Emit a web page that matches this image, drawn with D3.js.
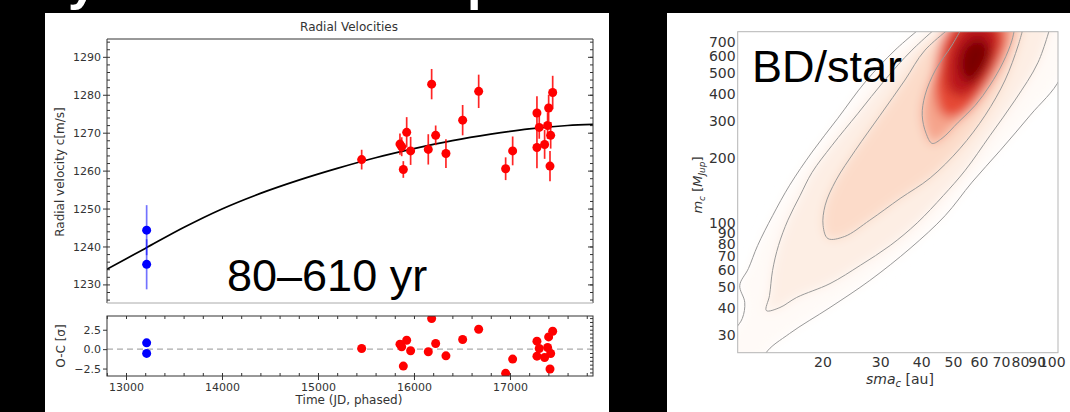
<!DOCTYPE html>
<html>
<head>
<meta charset="utf-8">
<title>Radial velocities and companion mass</title>
<script src="https://cdn.jsdelivr.net/npm/d3@7"></script>
<style>
  body { margin: 0; background: #000; }
  svg { display: block; }
</style>
</head>
<body>
<svg id="chart" width="1070" height="412"></svg>
<script>
// ---- radial velocity data ----
const rvTime  = [15455, 15854, 15872, 15889, 15924, 15965, 16149, 16184, 16226, 16333, 16507, 16674,
                 16955, 17028, 17281, 17281, 17305, 17361, 17392, 17403, 17417, 17424, 17445];
const rvValue = [1262.9, 1267.0, 1266.3, 1260.3, 1270.1, 1265.2, 1265.6, 1282.8, 1269.3, 1264.5, 1273.3, 1280.9,
                 1260.5, 1265.2, 1275.2, 1266.1, 1271.4, 1266.9, 1271.9, 1276.5, 1261.2, 1269.3, 1280.6];
const rvError = [2.6, 2.8, 2.5, 2.2, 4.0, 3.7, 4.0, 4.0, 2.6, 3.8, 4.0, 4.4,
                 3.0, 3.8, 4.4, 5.5, 3.0, 3.8, 3.5, 3.5, 4.0, 3.5, 4.4];
const rvResid = [0.09, 0.64, 0.30, -2.18, 1.15, -0.21, -0.34, 3.94, 0.73, -0.86, 1.24, 2.56,
                 -3.12, -1.28, 1.03, -0.90, 0.09, -1.07, 0.21, 1.58, -2.56, -0.56, 2.31];

const oldTime  = [13215, 13215];
const oldValue = [1244.3, 1235.3];
const oldError = [6.6, 6.6];
const oldResid = [0.81, -0.55];

const modelTime  = [12800, 13200, 13600, 14000, 14400, 14800, 15200, 15600, 16000, 16400, 16800, 17200, 17600, 17870];
const modelValue = [1234.0, 1239.5, 1245.0, 1249.9, 1254.0, 1257.5, 1260.6, 1263.4, 1265.8, 1267.9, 1269.6, 1271.0, 1271.9, 1272.2];

const rvTicks    = [1230, 1240, 1250, 1260, 1270, 1280, 1290];
const residTicks = [-2.5, 0, 2.5];
const timeTicks  = [13000, 14000, 15000, 16000, 17000];

// ---- companion posterior: contour outlines [sma au, mass Mjup] ----
const contourD = [[42.6,883],[33.3,640],[27.0,454],[22.3,308],[18.6,214],[15.9,150],[14.1,108],[12.7,78.5],
  [11.9,61.2],[11.2,51.1],[11.6,42.6],[11.4,35.8],[10.3,28.2],[10.1,18.4],[12.7,18.4],[13.4,24.5],[15.9,30.5],
  [21.1,40.3],[27.9,53.9],[37.0,76.0],[47.3,108],[57.2,155],[69.7,218],[86.0,318],[106.2,473],[117.7,883]];
const contourC = [[47.3,883],[37.5,640],[31.0,464],[25.7,325],[21.4,230],[18.6,172],[17.1,134],[15.7,103],
  [14.7,78.5],[14.1,60.0],[13.8,45.8],[13.5,39.0],[14.85,40.3],[16.7,44.9],[21.1,52.1],[26.1,63.4],[32.2,78.5],
  [38.9,100],[46.7,134],[54.5,176],[64.9,256],[77.3,374],[90.9,562],[100.3,883]];
const contourB = [[52.6,883],[41.1,640],[35.7,464],[30.0,318],[25.2,218],[22.0,158],[20.4,121],[20.1,97.3],
  [20.8,84.5],[23.4,86.5],[27.9,103],[34.5,130],[42.6,162],[52.6,223],[62.7,318],[72.1,464],[79.1,676],[83.0,883]];
const contourA = [[54.8,883],[49.7,676],[44.2,516],[41.1,394],[40.3,318],[41.4,262],[43.2,235],[46.3,248],
  [51.9,295],[58.5,354],[64.9,440],[71.1,562],[75.7,713],[77.8,883]];
// inner shading levels around the peak (no outline drawn)
const core1 = [[48.0,800],[44.5,560],[44.3,390],[47.0,315],[53.5,322],[61.5,410],[68.5,545],[72.5,720],[68.5,900],[54.5,960]];
const core2 = [[51.0,740],[47.8,550],[48.8,410],[54.5,390],[61.5,465],[67.0,610],[68.3,770],[58.5,870]];
const core3 = [[54.0,660],[52.5,520],[56.0,450],[62.0,515],[65.0,640],[60.0,730]];

const massTicks = [30, 40, 50, 60, 70, 80, 90, 100, 200, 300, 400, 500, 600, 700];
const smaTicks  = [20, 30, 40, 50, 60, 70, 80, 90, 100];

const svg = d3.select("#chart");
const mpl = "DejaVu Sans, sans-serif";

// slide background pieces
svg.append("rect").attr("x", 0).attr("y", 0).attr("width", 1070).attr("height", 412).attr("fill", "#000");
svg.append("rect").attr("x", 45).attr("y", 13).attr("width", 564).attr("height", 399).attr("fill", "#fff");
svg.append("rect").attr("x", 667).attr("y", 13).attr("width", 403).attr("height", 399).attr("fill", "#fff");

// cut-off slide heading (only descenders visible)
svg.append("text").attr("x", 68).attr("y", -1).text("y")
    .attr("font-family", "Liberation Sans, Arial, sans-serif").attr("font-weight", "bold")
    .attr("font-size", 52).attr("fill", "#fff");
svg.append("text").attr("x", 467).attr("y", -1).text("p")
    .attr("font-family", "Liberation Sans, Arial, sans-serif").attr("font-weight", "bold")
    .attr("font-size", 52).attr("fill", "#fff");

// ================= left: radial velocities =================
const x = d3.scaleLinear().domain([12802, 17865]).range([107, 593]);
const yRv = d3.scaleLinear().domain([1225.1, 1294.7]).range([303, 39]);
const yOc = d3.scaleLinear().domain([-3.46, 4.27]).range([376, 316]);

function styleAxis(g, size) {
    g.attr("font-family", mpl).attr("font-size", size);
    g.select(".domain").remove();
    g.selectAll(".tick line").attr("stroke", "#333");
    g.selectAll(".tick text").attr("fill", "#333");
}

const defs = svg.append("defs");
defs.append("clipPath").attr("id", "ocClip").append("rect")
    .attr("x", 107).attr("y", 316).attr("width", 486).attr("height", 60);
defs.append("clipPath").attr("id", "rvClip").append("rect")
    .attr("x", 107).attr("y", 39).attr("width", 486).attr("height", 264);

svg.append("text").attr("x", 349).attr("y", 31).attr("text-anchor", "middle")
    .attr("font-family", mpl).attr("font-size", 12).attr("fill", "#333").text("Radial Velocities");

// top panel axes
styleAxis(svg.append("g").attr("transform", "translate(107,0)")
    .call(d3.axisLeft(yRv).tickValues(rvTicks).tickSize(4).tickPadding(2).tickFormat(d3.format("d"))), 11);
styleAxis(svg.append("g").attr("transform", "translate(107,0)")
    .call(d3.axisLeft(yRv).tickValues(d3.range(1226, 1295, 2)).tickSize(-3).tickFormat("")), 11);
styleAxis(svg.append("g").attr("transform", "translate(593,0)")
    .call(d3.axisRight(yRv).tickValues(d3.range(1226, 1295, 2)).tickSize(-3).tickFormat("")), 11);
styleAxis(svg.append("g").attr("transform", "translate(593,0)")
    .call(d3.axisRight(yRv).tickValues(rvTicks).tickSize(-5).tickFormat("")), 11);

// model curve
const rvCurve = modelTime.map((t, i) => [t, modelValue[i]]);
svg.append("path").datum(rvCurve)
    .attr("clip-path", "url(#rvClip)")
    .attr("fill", "none").attr("stroke", "#000").attr("stroke-width", 1.7)
    .attr("d", d3.line().x(d => x(d[0])).y(d => yRv(d[1])).curve(d3.curveMonotoneX));

// error bars + points
const rvData = rvTime.map((t, i) => ({ t, v: rvValue[i], e: rvError[i], r: rvResid[i] }));
const oldData = oldTime.map((t, i) => ({ t, v: oldValue[i], e: oldError[i], r: oldResid[i] }));

function drawRv(data, color, barOpacity) {
    svg.append("g").selectAll("line").data(data).join("line")
        .attr("x1", d => x(d.t)).attr("x2", d => x(d.t))
        .attr("y1", d => yRv(d.v - d.e)).attr("y2", d => yRv(d.v + d.e))
        .attr("stroke", color).attr("stroke-width", 1.7).attr("opacity", barOpacity);
    svg.append("g").selectAll("circle").data(data).join("circle")
        .attr("cx", d => x(d.t)).attr("cy", d => yRv(d.v)).attr("r", 4.5).attr("fill", color);
}
drawRv(oldData, "#0000ff", 0.55);
drawRv(rvData, "#ff0000", 0.85);

// top panel frame
svg.append("path").attr("d", "M107,303V39H593V303").attr("fill", "none").attr("stroke", "#333").attr("stroke-width", 1);
svg.append("line").attr("x1", 107).attr("x2", 593).attr("y1", 303).attr("y2", 303)
    .attr("stroke", "#aaa").attr("stroke-width", 1);

svg.append("text").attr("transform", "translate(64,172) rotate(-90)").attr("text-anchor", "middle")
    .attr("font-family", mpl).attr("font-size", 12).attr("fill", "#333").text("Radial velocity c[m/s]");

svg.append("text").attr("x", 227).attr("y", 291)
    .attr("font-family", "Liberation Sans, Arial, Helvetica, sans-serif").attr("font-size", 45)
    .attr("fill", "#000").text("80–610 yr");

// O-C panel
styleAxis(svg.append("g").attr("transform", "translate(107,0)")
    .call(d3.axisLeft(yOc).tickValues(residTicks).tickSize(4).tickPadding(2).tickFormat(d3.format(".1f"))), 11);
styleAxis(svg.append("g").attr("transform", "translate(593,0)")
    .call(d3.axisRight(yOc).tickValues(d3.range(-3, 4.1, 0.5)).tickSize(-3).tickFormat("")), 11);
styleAxis(svg.append("g").attr("transform", "translate(0,376)")
    .call(d3.axisBottom(x).tickValues(timeTicks).tickSize(4).tickPadding(3).tickFormat(d3.format("d"))), 11);
styleAxis(svg.append("g").attr("transform", "translate(0,376)")
    .call(d3.axisBottom(x).tickValues(d3.range(12800, 17900, 200)).tickSize(-3).tickFormat("")), 11);
styleAxis(svg.append("g").attr("transform", "translate(0,316)")
    .call(d3.axisTop(x).tickValues(d3.range(12800, 17900, 200)).tickSize(-3).tickFormat("")), 11);

svg.append("line").attr("x1", 107).attr("x2", 593).attr("y1", yOc(0)).attr("y2", yOc(0))
    .attr("stroke", "#aaa").attr("stroke-width", 1.2).attr("stroke-dasharray", "6,4");

const ocG = svg.append("g").attr("clip-path", "url(#ocClip)");
ocG.selectAll("circle.old").data(oldData).join("circle").attr("class", "old")
    .attr("cx", d => x(d.t)).attr("cy", d => yOc(d.r)).attr("r", 4.5).attr("fill", "#0000ff");
ocG.selectAll("circle.new").data(rvData).join("circle").attr("class", "new")
    .attr("cx", d => x(d.t)).attr("cy", d => yOc(d.r)).attr("r", 4.5).attr("fill", "#ff0000");

svg.append("rect").attr("x", 107).attr("y", 316).attr("width", 486).attr("height", 60)
    .attr("fill", "none").attr("stroke", "#333").attr("stroke-width", 1);

svg.append("text").attr("transform", "translate(65,346) rotate(-90)").attr("text-anchor", "middle")
    .attr("font-family", mpl).attr("font-size", 12).attr("fill", "#333").text("O-C [σ]");
svg.append("text").attr("x", 349).attr("y", 404).attr("text-anchor", "middle")
    .attr("font-family", mpl).attr("font-size", 12).attr("fill", "#333").text("Time (JD, phased)");

// ================= right: mass vs separation =================
const xs = d3.scaleLog().domain([11.04, 104.5]).range([737.7, 1058]);
const ym = d3.scaleLog().domain([24.8, 780]).range([352.7, 31.7]);

defs.append("clipPath").attr("id", "mClip").append("rect")
    .attr("x", 737.7).attr("y", 31.7).attr("width", 320.3).attr("height", 321);
defs.append("filter").attr("id", "soft").attr("x", "-20%").attr("y", "-20%")
    .attr("width", "140%").attr("height", "140%")
    .append("feGaussianBlur").attr("stdDeviation", 5.5);

const openLine = d3.line().x(d => xs(d[0])).y(d => ym(d[1])).curve(d3.curveCatmullRom);
const closedLine = d3.line().x(d => xs(d[0])).y(d => ym(d[1])).curve(d3.curveCatmullRomClosed);

const plotG = svg.append("g").attr("clip-path", "url(#mClip)");
const fillG = plotG.append("g").attr("filter", "url(#soft)");
const levels = [
    { shape: contourD, color: "#fffaf7", closed: false },
    { shape: contourC, color: "#fdeee4", closed: false },
    { shape: contourB, color: "#fcdbc9", closed: false },
    { shape: contourA, color: "#f5a48c", closed: false },
    { shape: core1, color: "#e64a36", closed: true },
    { shape: core2, color: "#bb141a", closed: true },
    { shape: core3, color: "#7a0000", closed: true }
];
fillG.selectAll("path").data(levels).join("path")
    .attr("d", d => (d.closed ? closedLine : openLine)(d.shape))
    .attr("fill", d => d.color);

plotG.append("g").selectAll("path").data([contourD, contourC, contourB, contourA]).join("path")
    .attr("d", d => openLine(d))
    .attr("fill", "none").attr("stroke", "#999").attr("stroke-width", 1);

svg.append("rect").attr("x", 737.7).attr("y", 31.7).attr("width", 320.3).attr("height", 321)
    .attr("fill", "none").attr("stroke", "#b5b5b5").attr("stroke-width", 1);

styleAxis(svg.append("g").attr("transform", "translate(737.7,0)")
    .call(d3.axisLeft(ym).tickValues(massTicks).tickSize(0).tickPadding(2).tickFormat(d3.format("d"))), 14);
styleAxis(svg.append("g").attr("transform", "translate(0,352.7)")
    .call(d3.axisBottom(xs).tickValues(smaTicks).tickSize(0).tickPadding(4).tickFormat(d3.format("d"))), 14);

const xl = svg.append("text").attr("x", 900).attr("y", 384).attr("text-anchor", "middle")
    .attr("font-family", mpl).attr("font-size", 14).attr("fill", "#333");
xl.append("tspan").attr("font-style", "italic").text("sma");
xl.append("tspan").attr("font-style", "italic").attr("font-size", 10).attr("dy", 3).text("c");
xl.append("tspan").attr("dy", -3).text(" [au]");

const yl = svg.append("text").attr("transform", "translate(702,185) rotate(-90)").attr("text-anchor", "middle")
    .attr("font-family", mpl).attr("font-size", 13).attr("fill", "#333");
yl.append("tspan").attr("font-style", "italic").text("m");
yl.append("tspan").attr("font-style", "italic").attr("font-size", 9).attr("dy", 3).text("c");
yl.append("tspan").attr("dy", -3).text(" [");
yl.append("tspan").attr("font-style", "italic").text("M");
yl.append("tspan").attr("font-style", "italic").attr("font-size", 9).attr("dy", 3).text("Jup");
yl.append("tspan").attr("dy", -3).text("]");

svg.append("text").attr("x", 752).attr("y", 82)
    .attr("font-family", "Liberation Sans, Arial, Helvetica, sans-serif").attr("font-size", 45)
    .attr("fill", "#000").text("BD/star");
</script>
</body>
</html>
